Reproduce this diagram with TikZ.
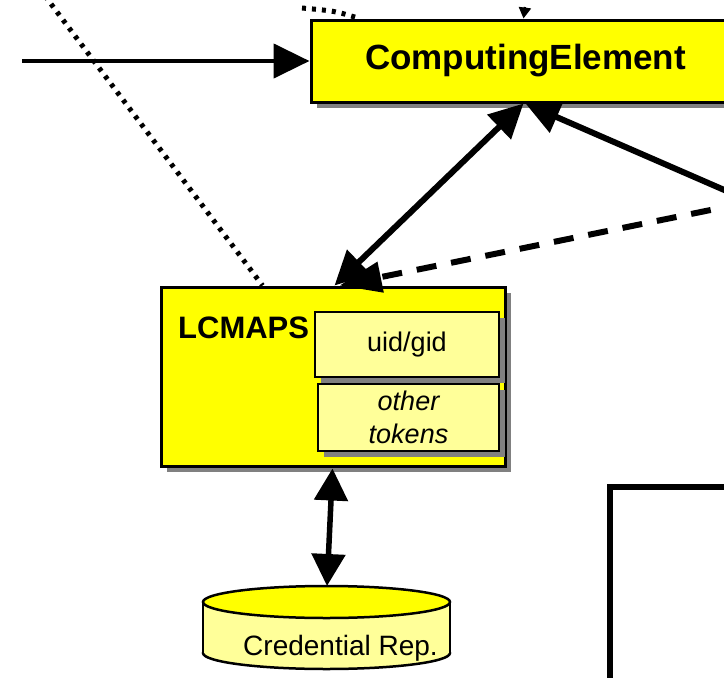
\documentclass[tikz,border=0pt]{standalone}
\usepackage{fontspec}
\setmainfont{Liberation Sans}
\usetikzlibrary{arrows.meta,shadows,calc}

\definecolor{ceyellow}{HTML}{FFFF00}
\definecolor{paleyellow}{HTML}{FFFF99}
\definecolor{shadowgray}{HTML}{808080}

\tikzset{
  boxshadow/.style={drop shadow={shadow xshift=6pt, shadow yshift=-6pt,
      fill=shadowgray, opacity=1}},
  mainbox/.style={draw=black, fill=ceyellow, line width=3pt, inner sep=0pt, boxshadow},
  subbox/.style={draw=black, fill=paleyellow, line width=2.5pt, inner sep=0pt,
      align=center, boxshadow},
  bigtip/.tip={Triangle[length=34pt,width=33pt]},
  dashtip/.tip={Triangle[length=42pt,width=30pt]},
  reptip/.tip={Triangle[length=32pt,width=33pt]},
  flow/.style={line width=6pt},
  dotline/.style={line width=5pt, dash pattern=on 4pt off 6pt},
  label27/.style={font=\fontsize{27}{33}\selectfont},
}

\begin{document}
\begin{tikzpicture}[x=1pt, y=-1pt]
\useasboundingbox (0,0) rectangle (724,678);

% main boxes
\node[mainbox, minimum width=429pt, minimum height=82pt,
      font=\fontsize{35}{42}\selectfont\bfseries] (ce) at (525.5,61) {ComputingElement};

\node[mainbox, minimum width=344pt, minimum height=179pt] (lcmaps) at (333,376.5) {};
\node[anchor=base west, inner sep=0pt, font=\fontsize{31}{36}\selectfont\bfseries]
      (lcmapslabel) at (178,338) {LCMAPS};

\node[subbox, label27, minimum width=184pt, minimum height=65pt] (uid) at (407,344.5) {uid/gid};
\node[subbox, label27, minimum width=181pt, minimum height=67pt] (other) at (408.5,417.5)
      {\itshape other\\\itshape tokens};

% credential repository (cylinder)
\draw[line width=2.5pt, fill=paleyellow] (326.5,653) ellipse [x radius=123.5pt, y radius=16pt];
\fill[paleyellow] (203,602) rectangle (450,653);
\draw[line width=2.5pt] (203,602) -- (203,653) (450,602) -- (450,653);
\draw[line width=2.5pt, fill=ceyellow] (326.5,602) ellipse [x radius=123.5pt, y radius=16pt];
\node[anchor=base, inner sep=0pt, font=\fontsize{28}{33}\selectfont] (credrep) at (340.5,655) {Credential Rep.};
\coordinate (credtop) at (327,586);

% empty panel at the lower right
\node[draw, line width=6pt, fill=white, inner sep=0pt,
      minimum width=180pt, minimum height=233pt] (panel) at (700,603.5) {};

% connectors
\coordinate (feedIn) at (22,61);
\draw[line width=4.5pt, -{Triangle[length=36pt,width=34pt]}] (feedIn) -- (ce.west);

\coordinate (topFeed) at (525,7);
\draw[line width=2.5pt, -{Triangle[length=11pt,width=12pt]}] (topFeed) -- ($(ce.north west)+(214,0)$);

\draw[flow, bigtip-bigtip] ($(lcmaps.north west)+(175,0)$) -- ($(ce.south west)+(214,0)$);

\coordinate (rightFeed) at (745,199);
\draw[flow, -bigtip] (rightFeed) -- ($(ce.south west)+(216,0)$);

\coordinate (rightDash) at (745,203);
\draw[flow, dash pattern=on 20pt off 15pt, -dashtip]
      (rightDash) -- ($(lcmaps.north west)+(180,0)$);

\draw[line width=5.5pt, reptip-reptip] ($(lcmaps.south west)+(173,1)$) -- (credtop);

\coordinate (dotFar) at (45,-4);
\draw[dotline] (dotFar) -- ($(lcmaps.north west)+(103,0)$);

\coordinate (dotNear) at (302,8);
\draw[dotline] (dotNear) .. controls (335,11) .. ($(ce.north west)+(50,0)$);
\end{tikzpicture}
\end{document}
